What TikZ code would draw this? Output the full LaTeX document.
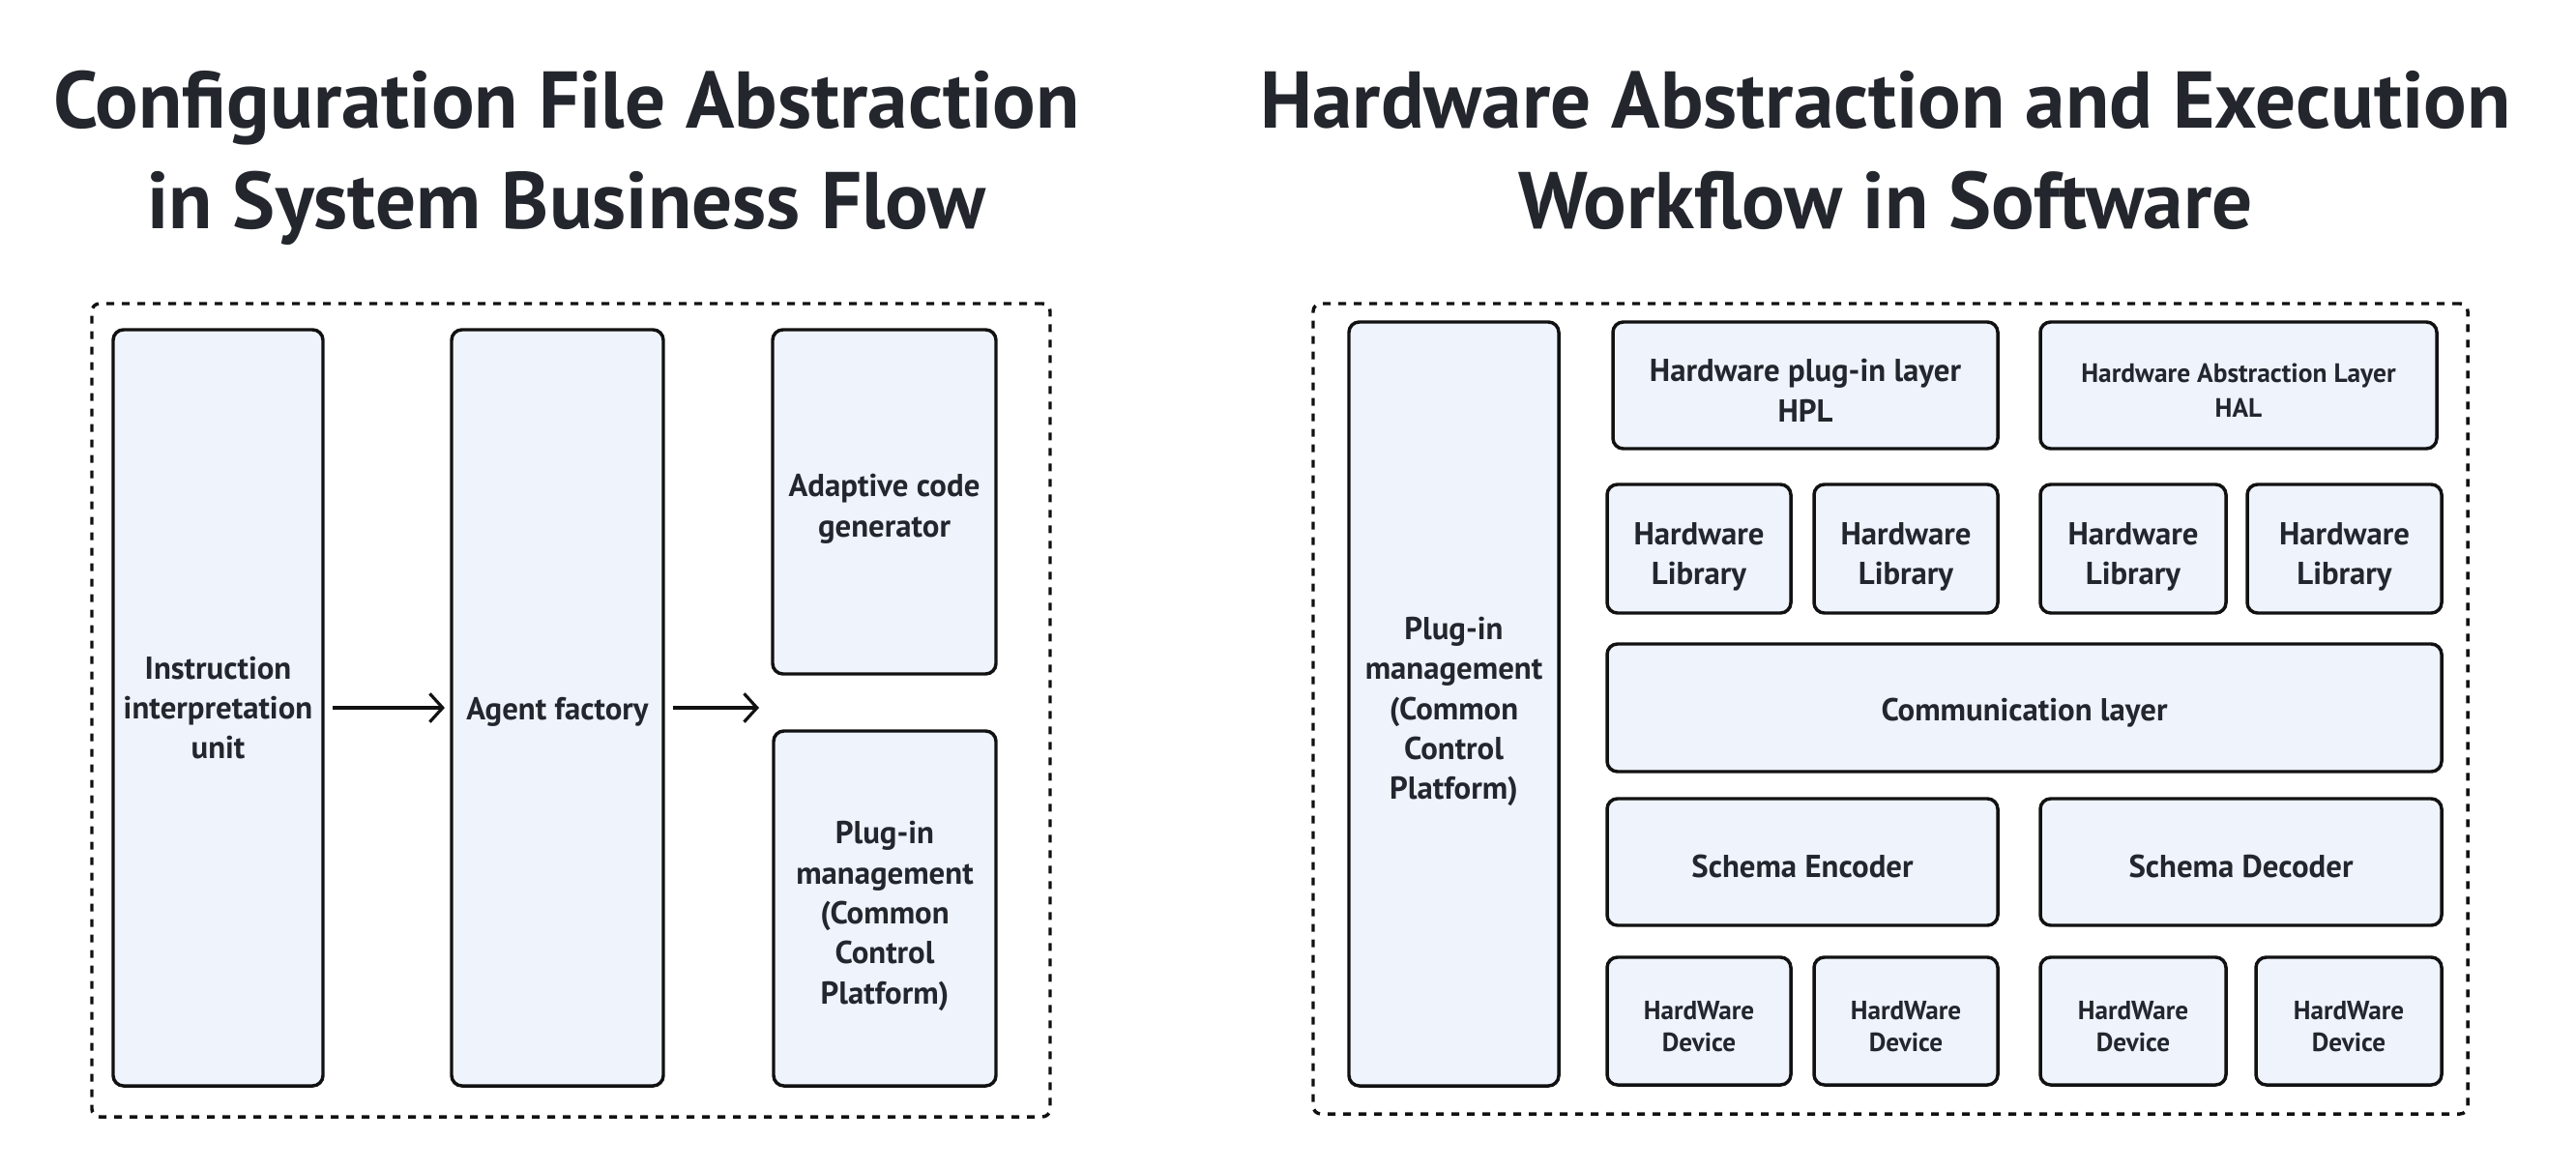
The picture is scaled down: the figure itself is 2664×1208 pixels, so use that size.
\documentclass[tikz,border=0pt]{standalone}
\usepackage{fontspec}
\setmainfont{PT Sans}
\usetikzlibrary{arrows.meta}
\definecolor{boxfill}{HTML}{EEF3FC}
\definecolor{bdr}{HTML}{111111}
\definecolor{txt}{HTML}{23262D}
% box from corner (x1,y1) to (x2,y2), in pixel units
\newcommand\bx[7]{\node[#6,minimum width={(#4-#2)*0.375pt},minimum height={(#5-#3)*0.375pt}] (#1) at ({(#2+#4)/2},{(#3+#5)/2}) {#7};}
% invisible struts that lower the first line a little
\newcommand\lift{\rule{0pt}{1.2em}}
\newcommand\liftM{\rule{0pt}{1.1em}}
\newcommand\liftS{\rule{0pt}{1.1em}}
\begin{document}
\begin{tikzpicture}[x=0.375pt,y=-0.375pt,
  blk/.style={draw=bdr, fill=boxfill, line width=1.3pt, rounded corners=4pt, inner sep=0pt,
    align=center, text=txt, font=\bfseries\fontsize{12.3}{15.5}\selectfont,
    execute at begin node={\rule{0pt}{1.0em}}},
  haltext/.style={font=\bfseries\fontsize{10.3}{13.4}\selectfont},
  devtext/.style={font=\bfseries\fontsize{10.2}{12.2}\selectfont},
  frame/.style={draw=bdr, line width=1.3pt, dash pattern=on 3pt off 3pt, rounded corners=3pt, inner sep=0pt},
  ttl/.style={font=\bfseries\fontsize{31.2}{39}\selectfont, text=txt, align=center},
  arr/.style={-{Straight Barb[length=5pt,width=11pt]}, line width=1.2pt, draw=bdr}]
\useasboundingbox (0,0) rectangle (2664,1208);

% titles
\node[ttl] (t1) at (586,163) {Configuration File Abstraction\\in System Business Flow};
\node[ttl] (t2) at (1950,155) {Hardware Abstraction and Execution\\Workflow in Software};

% left panel
\bx{lframe}{95}{314}{1086}{1155}{frame}{}
\bx{ins}{117}{341}{334}{1123}{blk}{Instruction\\interpretation\\unit}
\bx{agent}{467}{341}{686}{1123}{blk}{Agent factory}
\bx{adapt}{799}{341}{1030}{697}{blk}{\rule{0pt}{1.15em}Adaptive code\\generator}
\bx{plugL}{800}{756}{1030}{1123}{blk}{\lift Plug-in\\management\\(Common\\Control\\Platform)}
\coordinate (a2end) at (785,732);
\draw[arr, shorten <=3pt, shorten >=2pt] (ins) -- (agent);
\draw[arr, shorten <=3pt] (agent) -- (a2end);

% right panel
\bx{rframe}{1358}{314}{2552}{1152}{frame}{}
\bx{plugR}{1395}{333}{1612}{1123}{blk}{\lift Plug-in\\management\\(Common\\Control\\Platform)}
\bx{hpl}{1668}{333}{2066}{464}{blk}{\rule{0pt}{1.04em}Hardware plug-in layer\\HPL}
\bx{hal}{2110}{333}{2520}{464}{blk,haltext}{\liftS Hardware Abstraction Layer\\HAL}
\bx{lib1}{1662}{501}{1852}{634}{blk}{\lift Hardware\\Library}
\bx{lib2}{1876}{501}{2066}{634}{blk}{\lift Hardware\\Library}
\bx{lib3}{2110}{501}{2302}{634}{blk}{\lift Hardware\\Library}
\bx{lib4}{2324}{501}{2525}{634}{blk}{\lift Hardware\\Library}
\bx{comm}{1662}{666}{2525}{798}{blk}{Communication layer}
\bx{enc}{1662}{826}{2066}{957}{blk}{Schema Encoder}
\bx{dec}{2110}{826}{2525}{957}{blk}{Schema Decoder}
\bx{dev1}{1662}{990}{1852}{1122}{blk,devtext}{\liftS HardWare\\Device}
\bx{dev2}{1876}{990}{2066}{1122}{blk,devtext}{\liftS HardWare\\Device}
\bx{dev3}{2110}{990}{2302}{1122}{blk,devtext}{\liftS HardWare\\Device}
\bx{dev4}{2333}{990}{2525}{1122}{blk,devtext}{\liftS HardWare\\Device}
\end{tikzpicture}
\end{document}
